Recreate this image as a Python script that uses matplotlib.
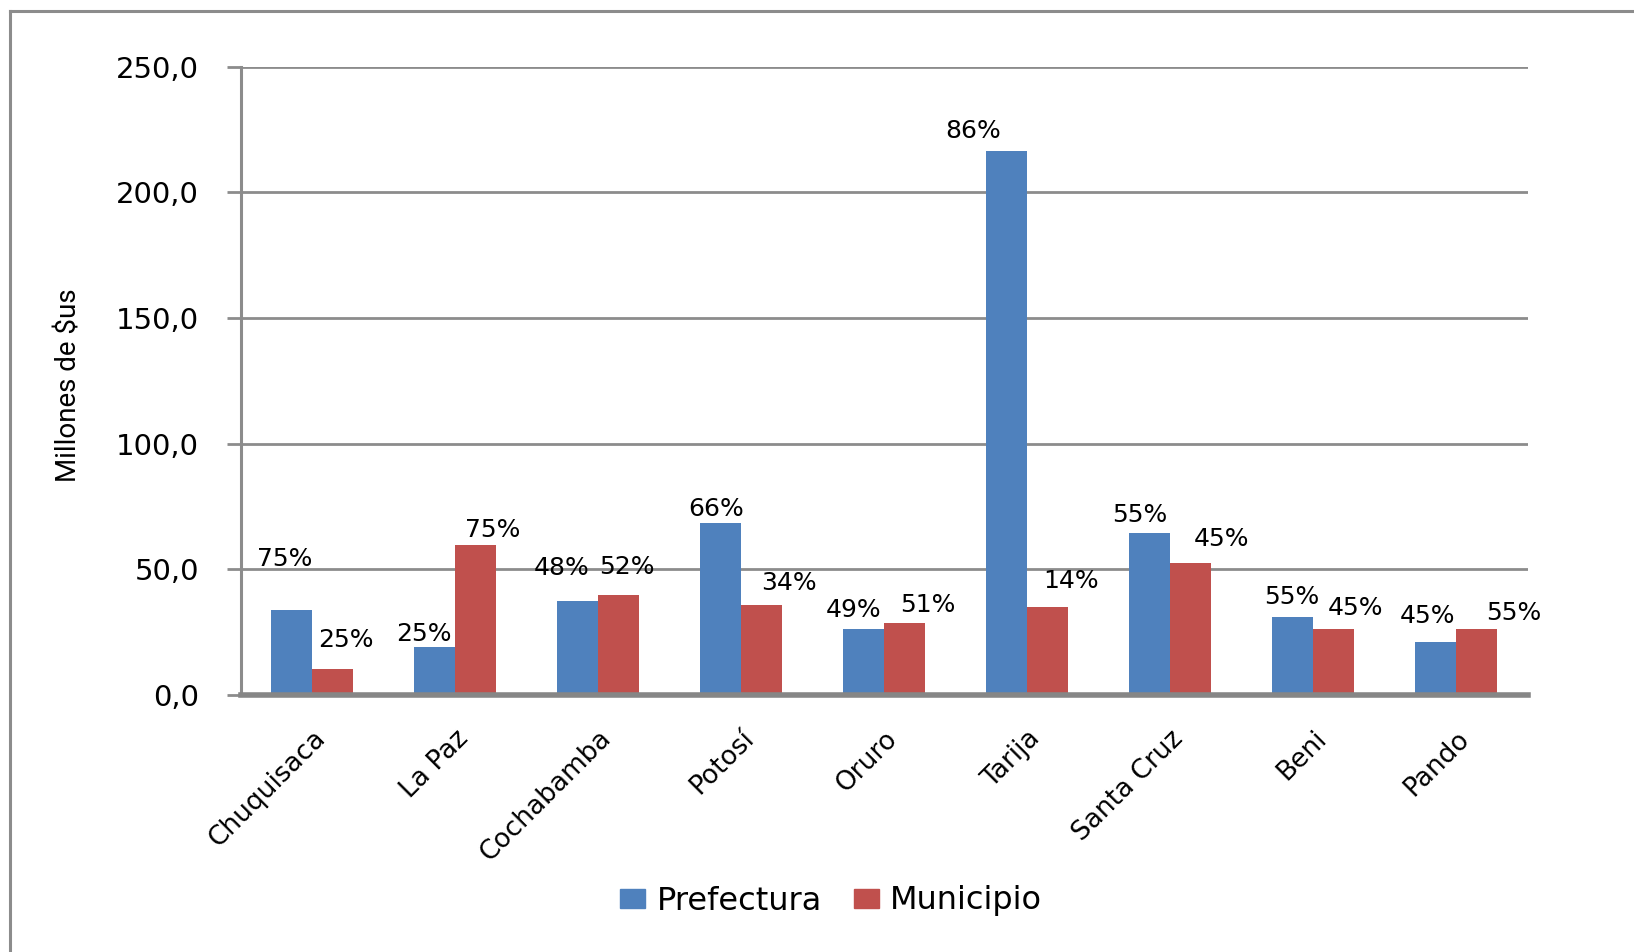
import matplotlib
matplotlib.use("Agg")
import matplotlib.pyplot as plt
from matplotlib.lines import Line2D
from matplotlib.patches import Patch
import numpy as np

departamentos = ["Chuquisaca", "La Paz", "Cochabamba", "Potosí", "Oruro",
                 "Tarija", "Santa Cruz", "Beni", "Pando"]
prefectura = [34.0, 19.1, 37.3, 68.4, 26.1, 216.4, 64.3, 31.1, 21.1]
municipio = [10.4, 59.7, 39.8, 35.7, 28.6, 34.8, 52.7, 26.1, 26.1]
pct_prefectura = [75, 25, 48, 66, 49, 86, 55, 55, 45]
pct_municipio = [25, 75, 52, 34, 51, 14, 45, 45, 55]
y_ticks = [0, 50, 100, 150, 200, 250]
y_tick_labels = ["0,0", "50,0", "100,0", "150,0", "200,0", "250,0"]

# label offsets (pixels relative to bar top-center): layout only
off_pref = [(-7, 51), (-11, 13), (-16, 33), (-5, 14), (-10, 19), (-34, 20), (-10, 18), (-1, 20), (-8, 26)]
off_muni = [(13, 29), (17, 15), (8, 28), (27, 22), (23, 18), (23, 26), (31, 24), (22, 21), (37, 16)]

BLUE = "#4F81BD"
RED = "#C0504D"
GRID = "#8C8C8C"

plt.rcParams["font.family"] = ["DejaVu Sans"]
fig = plt.figure(figsize=(16.34, 9.52), dpi=100)
ax = fig.add_axes([0.1473, 0.270, 0.935 - 0.1473, 0.930 - 0.270])

x = np.arange(len(departamentos))
w = 1 / 3.5
ax.bar(x - w / 2, prefectura, w, color=BLUE, label="Prefectura", zorder=3)
ax.bar(x + w / 2, municipio, w, color=RED, label="Municipio", zorder=3)

ax.set_xlim(-0.5, len(departamentos) - 0.5)
ax.set_ylim(0, 250)
ax.set_yticks(y_ticks)
ax.set_yticklabels(y_tick_labels, fontsize=21)
ax.yaxis.grid(True, color=GRID, linewidth=2, zorder=0)
ax.set_axisbelow(True)
ax.tick_params(axis="y", length=10, width=2, color=GRID, pad=20)
ax.tick_params(axis="x", length=0, pad=22)
ax.set_xticks(x)
ax.set_xticklabels(departamentos, rotation=45, ha="right", va="top",
                   rotation_mode="anchor", fontsize=19)
for s in ["top", "right"]:
    ax.spines[s].set_visible(False)
ax.spines["left"].set_color(GRID)
ax.spines["left"].set_linewidth(2.2)
ax.spines["bottom"].set_color("#868686")
ax.spines["bottom"].set_linewidth(4)
ax.spines["bottom"].set_zorder(4)

px = 0.72
for i in range(len(departamentos)):
    dx, dy = off_pref[i]
    ax.annotate(f"{pct_prefectura[i]}%", (x[i] - w / 2, prefectura[i]),
                xytext=(dx * px, dy * px), textcoords="offset points",
                ha="center", va="center", fontsize=18)
    dx, dy = off_muni[i]
    ax.annotate(f"{pct_municipio[i]}%", (x[i] + w / 2, municipio[i]),
                xytext=(dx * px, dy * px), textcoords="offset points",
                ha="center", va="center", fontsize=18)

fig.text(69 / 1634, 1 - 385 / 952, "Millones de $us", rotation=90,
         ha="center", va="center", fontsize=20, family=["Roboto", "DejaVu Sans"])

handles = [Patch(color=BLUE), Patch(color=RED)]
fig.legend(handles, ["Prefectura", "Municipio"], loc="center",
           bbox_to_anchor=(831 / 1634, 1 - 901 / 952), ncol=2, frameon=False,
           fontsize=23, handlelength=0.8, handleheight=0.55, handletextpad=0.35,
           columnspacing=1.0)

fig.add_artist(Line2D([10 / 1634, 1], [1 - 11 / 952, 1 - 11 / 952],
                      transform=fig.transFigure, color="#8C8C8C", linewidth=2.2))
fig.add_artist(Line2D([10 / 1634, 10 / 1634], [0, 1 - 11 / 952],
                      transform=fig.transFigure, color="#8C8C8C", linewidth=2.2))

fig.savefig("out.png", dpi=100)
